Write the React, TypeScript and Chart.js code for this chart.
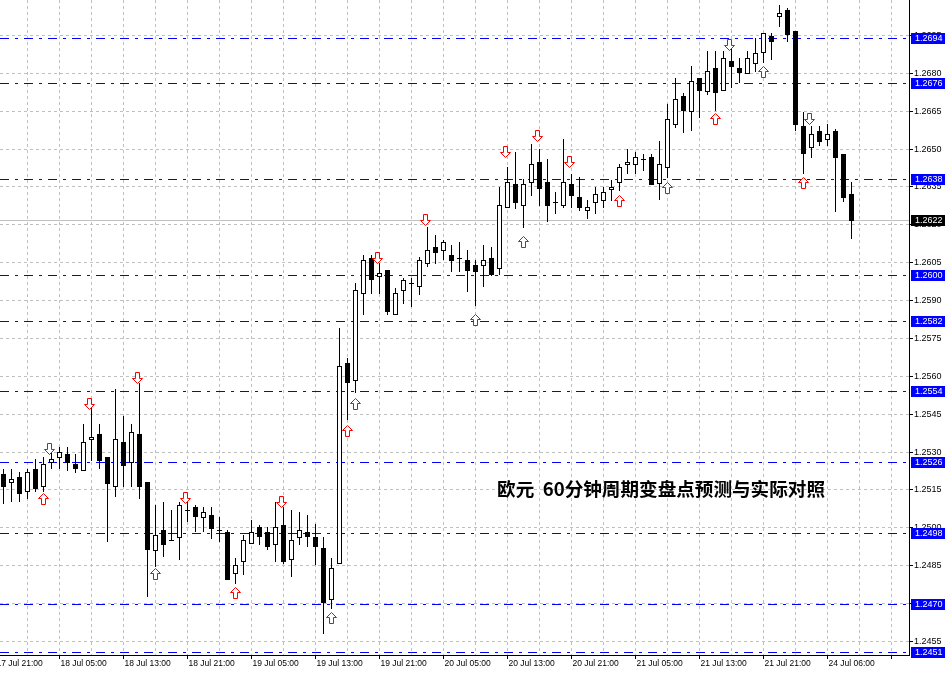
import React, { useEffect, useRef } from 'react';
import { Chart, registerables } from 'chart.js';

Chart.register(...registerables);

// ---- Data (EUR/USD H1) ----
const opens = [
  1.25213, 1.25181, 1.25201, 1.25146, 1.25233, 1.25165, 1.25260, 1.25280, 1.25292, 1.25253,
  1.25229, 1.25352, 1.25371, 1.25280, 1.25165, 1.25340, 1.25260, 1.25371, 1.25181, 1.24912,
  1.24991, 1.24952, 1.24963, 1.25070, 1.25082, 1.25043, 1.25051, 1.24991, 1.24983, 1.24821,
  1.24868, 1.24938, 1.25003, 1.24983, 1.24936, 1.25011, 1.24876, 1.24963, 1.24983, 1.24963,
  1.24920, 1.24718, 1.24861, 1.25653, 1.25585, 1.25930, 1.26068, 1.25999, 1.26021, 1.25847,
  1.25942, 1.25969, 1.25959, 1.26049, 1.26112, 1.26100, 1.26080, 1.26068, 1.26060, 1.26041,
  1.26041, 1.26068, 1.26029, 1.26270, 1.26361, 1.26278, 1.26369, 1.26449, 1.26369, 1.26290,
  1.26278, 1.26361, 1.26310, 1.26258, 1.26290, 1.26298, 1.26342, 1.26369, 1.26441, 1.26441,
  1.26460, 1.26468, 1.26365, 1.26429, 1.26599, 1.26710, 1.26650, 1.26781, 1.26730, 1.26821,
  1.26734, 1.26848, 1.26821, 1.26801, 1.26841, 1.26884, 1.26947, 1.27027, 1.27050, 1.26967,
  1.26591, 1.26508, 1.26571, 1.26540, 1.26571, 1.26480, 1.26322,
];
const highs = [
  1.25233, 1.25233, 1.25221, 1.25233, 1.25272, 1.25280, 1.25296, 1.25320, 1.25320, 1.25292,
  1.25411, 1.25478, 1.25411, 1.25280, 1.25550, 1.25443, 1.25411, 1.25573, 1.25181, 1.25090,
  1.25102, 1.25070, 1.25102, 1.25114, 1.25090, 1.25082, 1.25082, 1.25043, 1.24991, 1.24880,
  1.24971, 1.25031, 1.25011, 1.25003, 1.25102, 1.25082, 1.25070, 1.25063, 1.25051, 1.25015,
  1.24963, 1.24880, 1.25791, 1.25672, 1.25969, 1.26080, 1.26080, 1.26049, 1.26021, 1.25950,
  1.25989, 1.25989, 1.26072, 1.26191, 1.26159, 1.26140, 1.26120, 1.26132, 1.26100, 1.26060,
  1.26120, 1.26112, 1.26350, 1.26429, 1.26488, 1.26381, 1.26520, 1.26500, 1.26460, 1.26330,
  1.26540, 1.26401, 1.26389, 1.26298, 1.26350, 1.26350, 1.26377, 1.26441, 1.26500, 1.26488,
  1.26480, 1.26480, 1.26532, 1.26678, 1.26781, 1.26722, 1.26829, 1.26781, 1.26888, 1.26888,
  1.26888, 1.26904, 1.26860, 1.26888, 1.26940, 1.26959, 1.26959, 1.27070, 1.27058, 1.26967,
  1.26647, 1.26591, 1.26591, 1.26599, 1.26579, 1.26480, 1.26369,
];
const lows = [
  1.25098, 1.25106, 1.25106, 1.25118, 1.25146, 1.25146, 1.25237, 1.25237, 1.25229, 1.25221,
  1.25229, 1.25268, 1.25237, 1.24948, 1.25126, 1.25165, 1.25165, 1.25118, 1.24730, 1.24849,
  1.24888, 1.24952, 1.24876, 1.25027, 1.24987, 1.24987, 1.24960, 1.24948, 1.24797, 1.24781,
  1.24817, 1.24938, 1.24936, 1.24916, 1.24868, 1.24860, 1.24809, 1.24936, 1.24928, 1.24857,
  1.24583, 1.24682, 1.24861, 1.25431, 1.25538, 1.25847, 1.25930, 1.25928, 1.25847, 1.25847,
  1.25890, 1.25878, 1.25926, 1.26037, 1.26049, 1.26064, 1.26017, 1.26017, 1.25938, 1.25882,
  1.25957, 1.26001, 1.26005, 1.26270, 1.26266, 1.26191, 1.26318, 1.26278, 1.26215, 1.26247,
  1.26270, 1.26270, 1.26258, 1.26227, 1.26247, 1.26270, 1.26298, 1.26338, 1.26405, 1.26405,
  1.26417, 1.26361, 1.26302, 1.26389, 1.26587, 1.26567, 1.26575, 1.26627, 1.26718, 1.26654,
  1.26734, 1.26746, 1.26765, 1.26801, 1.26809, 1.26845, 1.26856, 1.26987, 1.26928, 1.26575,
  1.26405, 1.26468, 1.26516, 1.26516, 1.26254, 1.26294, 1.26148,
];
const closes = [
  1.25165, 1.25193, 1.25138, 1.25221, 1.25158, 1.25253, 1.25272, 1.25300, 1.25260, 1.25237,
  1.25340, 1.25359, 1.25268, 1.25177, 1.25352, 1.25249, 1.25379, 1.25165, 1.24916, 1.24971,
  1.24936, 1.24952, 1.25090, 1.25070, 1.25047, 1.25063, 1.24999, 1.24991, 1.24797, 1.24853,
  1.24952, 1.24983, 1.24967, 1.24928, 1.25003, 1.24868, 1.24952, 1.24991, 1.24967, 1.24928,
  1.24706, 1.24841, 1.25641, 1.25577, 1.25942, 1.26060, 1.25985, 1.26009, 1.25858, 1.25930,
  1.25981, 1.25969, 1.26060, 1.26100, 1.26092, 1.26132, 1.26060, 1.26068, 1.26021, 1.26017,
  1.26060, 1.26005, 1.26278, 1.26369, 1.26290, 1.26361, 1.26441, 1.26346, 1.26278, 1.26290,
  1.26369, 1.26318, 1.26270, 1.26270, 1.26322, 1.26330, 1.26350, 1.26429, 1.26449, 1.26468,
  1.26460, 1.26361, 1.26441, 1.26619, 1.26698, 1.26654, 1.26769, 1.26734, 1.26809, 1.26726,
  1.26860, 1.26829, 1.26805, 1.26860, 1.26880, 1.26959, 1.26928, 1.27039, 1.26955, 1.26599,
  1.26484, 1.26559, 1.26532, 1.26559, 1.26468, 1.26310, 1.26220,
];

// x-axis date labels (one every 8 bars, first one at bar -1)
const xTickLabels = [
  '17 Jul 21:00', '18 Jul 05:00', '18 Jul 13:00', '18 Jul 21:00', '19 Jul 05:00',
  '19 Jul 13:00', '19 Jul 21:00', '20 Jul 05:00', '20 Jul 13:00', '20 Jul 21:00',
  '21 Jul 05:00', '21 Jul 13:00', '21 Jul 21:00', '24 Jul 06:00',
];
const xGridBars = [-1, 3, 7, 11, 15, 19, 23, 27, 31, 35, 39, 43, 47, 51, 55, 59, 63, 67, 71, 75, 79, 83, 87, 91, 95, 99, 103, 107, 111];

// y-axis price ticks
const yTickValues = [
  1.2455, 1.2470, 1.2485, 1.2500, 1.2515, 1.2530, 1.2545, 1.2560, 1.2575,
  1.2590, 1.2605, 1.2620, 1.2635, 1.2650, 1.2665, 1.2680, 1.2695, 1.2710,
];

// horizontal forecast levels (blue dash-dot lines)
const levelPrices = [1.2694, 1.2676, 1.2638, 1.2600, 1.2582, 1.2554, 1.2526, 1.2498, 1.2470, 1.2451];
const currentPrice = 1.2622;

// turning-point arrows
const upArrowBars = [5, 19, 29, 41, 43, 44, 59, 65, 77, 83, 89, 95, 100];
const upArrowPrices = [1.25138, 1.24841, 1.24766, 1.24667, 1.25407, 1.25514, 1.25847, 1.26155, 1.26318, 1.26369, 1.26643, 1.26829, 1.26389];
const downArrowBars = [6, 11, 17, 23, 35, 47, 53, 63, 67, 71, 91, 101];
const downArrowPrices = [1.25292, 1.25470, 1.25573, 1.25098, 1.25082, 1.26049, 1.26199, 1.26468, 1.26532, 1.26429, 1.26892, 1.26599];

const titleText = '欧元  60分钟周期变盘点预测与实际对照';
const titleBar = 61.7;
const titlePrice = 1.25154;

const X_MIN = -0.4375;
const X_MAX = 113.1875;
const Y_MIN = 1.244962;
const Y_MAX = 1.270903;

const overlayPlugin = {
  id: 'mt4overlay',
  afterDatasetsDraw(chart: any) {
    const { ctx, chartArea, scales } = chart;
    const x = scales.x;
    const y = scales.y;
    ctx.save();
    ctx.beginPath();
    ctx.rect(chartArea.left, chartArea.top, chartArea.right - chartArea.left, chartArea.bottom - chartArea.top);
    ctx.clip();

    // current price line
    {
      const r = Math.round(y.getPixelForValue(currentPrice));
      ctx.strokeStyle = '#c0c0c0';
      ctx.lineWidth = 1;
      ctx.setLineDash([]);
      ctx.beginPath();
      ctx.moveTo(chartArea.left, r + 0.5);
      ctx.lineTo(chartArea.right, r + 0.5);
      ctx.stroke();
    }

    // level lines
    ctx.strokeStyle = '#0000ff';
    ctx.lineWidth = 1;
    ctx.setLineDash([9, 6, 3, 6]);
    for (const lv of levelPrices) {
      const r = Math.round(y.getPixelForValue(lv));
      ctx.beginPath();
      ctx.moveTo(chartArea.left, r + 0.5);
      ctx.lineTo(chartArea.right, r + 0.5);
      ctx.stroke();
    }
    ctx.setLineDash([]);

    // candles
    for (let i = 0; i < opens.length; i++) {
      const cx = Math.floor(x.getPixelForValue(i));
      const yo = Math.round(y.getPixelForValue(opens[i]));
      const yc = Math.round(y.getPixelForValue(closes[i]));
      const yh = Math.round(y.getPixelForValue(highs[i]));
      const yl = Math.round(y.getPixelForValue(lows[i]));
      ctx.fillStyle = '#000';
      ctx.fillRect(cx, yh, 1, yl - yh + 1);
      const top = Math.min(yo, yc);
      const bot = Math.max(yo, yc);
      if (bot === top) {
        ctx.fillRect(cx - 2, top, 5, 1);
      } else if (closes[i] < opens[i]) {
        ctx.fillRect(cx - 2, top, 5, bot - top + 1);
      } else {
        ctx.fillRect(cx - 2, top, 5, bot - top + 1);
        if (bot - top > 1) {
          ctx.fillStyle = '#fff';
          ctx.fillRect(cx - 1, top + 1, 3, bot - top - 1);
        }
      }
    }

    // arrows
    ctx.strokeStyle = '#ff0000';
    ctx.lineWidth = 1;
    const drawArrow = (cx: number, ty: number, dir: number) => {
      const px = cx + 0.5;
      const py = ty + 0.5;
      const pts = [[0, 0], [5, 5], [2, 5], [2, 11], [-2, 11], [-2, 5], [-5, 5]];
      ctx.beginPath();
      pts.forEach(([dx, dy], k) => {
        const X = px + dx;
        const Y = py + dir * dy;
        if (k === 0) ctx.moveTo(X, Y);
        else ctx.lineTo(X, Y);
      });
      ctx.closePath();
      ctx.fillStyle = '#fff';
      ctx.fill();
      ctx.stroke();
    };
    upArrowBars.forEach((b, k) => {
      const cx = Math.floor(x.getPixelForValue(b));
      const ty = Math.round(y.getPixelForValue(upArrowPrices[k]));
      drawArrow(cx, ty, 1);
    });
    downArrowBars.forEach((b, k) => {
      const cx = Math.floor(x.getPixelForValue(b)) - 2;
      const ty = Math.round(y.getPixelForValue(downArrowPrices[k]));
      drawArrow(cx, ty, -1);
    });

    // title
    ctx.fillStyle = '#000';
    ctx.font = 'bold 18.6px "Noto Sans CJK SC", sans-serif';
    ctx.textBaseline = 'middle';
    ctx.textAlign = 'left';
    ctx.fillText(titleText, x.getPixelForValue(titleBar), y.getPixelForValue(titlePrice));
    ctx.restore();
  },
  afterDraw(chart: any) {
    const { ctx, scales } = chart;
    const y = scales.y;
    const left = y.left + 2;
    ctx.save();
    ctx.font = '9px "Liberation Sans", sans-serif';
    ctx.textBaseline = 'middle';
    ctx.textAlign = 'left';
    const box = (price: number, color: string) => {
      const r = Math.round(y.getPixelForValue(price));
      ctx.fillStyle = color;
      ctx.fillRect(left, r - 5, 34, 11);
      ctx.fillStyle = '#fff';
      ctx.fillText(price.toFixed(4), left + 4, r + 1);
    };
    levelPrices.forEach((p) => box(p, '#0000ff'));
    box(currentPrice, '#000000');
    ctx.restore();
  },
};

export default function App() {
  const canvasRef = useRef<HTMLCanvasElement | null>(null);

  useEffect(() => {
    const canvas = canvasRef.current;
    if (!canvas) return;
    const chart = new Chart(canvas, {
      type: 'line',
      data: {
        datasets: [
          {
            label: 'Close',
            data: closes.map((c, i) => ({ x: i, y: c })),
            showLine: false,
            pointRadius: 0,
            borderColor: 'rgba(0,0,0,0)',
            backgroundColor: 'rgba(0,0,0,0)',
          },
        ],
      },
      options: {
        animation: false,
        responsive: false,
        devicePixelRatio: 1,
        events: [],
        layout: { padding: 0 },
        plugins: { legend: { display: false }, tooltip: { enabled: false } },
        scales: {
          x: {
            type: 'linear',
            position: 'bottom',
            min: X_MIN,
            max: X_MAX,
            afterBuildTicks: (s: any) => {
              s.ticks = xGridBars.map((v) => ({ value: v }));
            },
            afterFit: (s: any) => {
              s.height = 19;
              s.paddingLeft = 0;
              s.paddingRight = 0;
            },
            grid: {
              color: '#c0c0c0',
              lineWidth: 1,
              tickLength: 4,
              tickColor: (c: any) => (c.tick && (c.tick.value + 1) % 8 === 0 ? '#000' : 'rgba(0,0,0,0)'),
              tickBorderDash: [],
            },
            border: { display: true, color: '#000', width: 1, dash: [3, 3] },
            ticks: {
              autoSkip: false,
              maxRotation: 0,
              minRotation: 0,
              align: 'start',
              padding: 0,
              labelOffset: 1,
              color: '#000',
              font: { family: '"Liberation Sans", sans-serif', size: 8.5 },
              callback: (v: any) => {
                const n = Number(v);
                if ((n + 1) % 8 === 0) return xTickLabels[(n + 1) / 8] || '';
                return '';
              },
            },
          },
          y: {
            type: 'linear',
            position: 'right',
            min: Y_MIN,
            max: Y_MAX,
            afterBuildTicks: (s: any) => {
              s.ticks = yTickValues.map((v) => ({ value: v }));
            },
            afterFit: (s: any) => {
              s.width = 41;
              s.paddingTop = 0;
              s.paddingBottom = 0;
            },
            grid: {
              color: '#c0c0c0',
              lineWidth: 1,
              tickLength: 4,
              tickColor: '#000',
              tickBorderDash: [],
            },
            border: { display: true, color: '#000', width: 1, dash: [3, 3] },
            ticks: {
              padding: 1,
              color: '#000',
              font: { family: '"Liberation Sans", sans-serif', size: 9 },
              callback: (v: any) => Number(v).toFixed(4),
            },
          },
        },
      },
      plugins: [overlayPlugin],
    } as any);
    return () => chart.destroy();
  }, []);

  return (
    <div style={{ position: 'absolute', left: 0, top: 0, width: 950, height: 674, background: '#fff' }}>
      <canvas ref={canvasRef} width={950} height={674} style={{ display: 'block' }} />
    </div>
  );
}
